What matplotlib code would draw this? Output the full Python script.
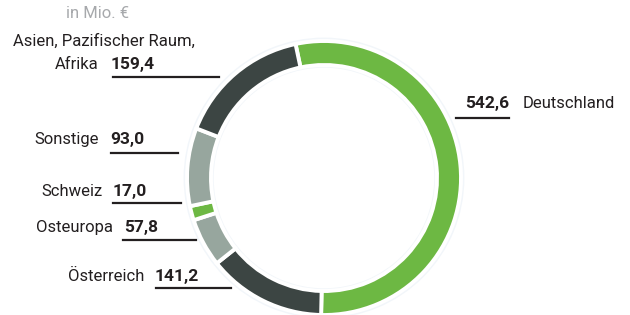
import matplotlib.pyplot as plt

plt.rcParams['font.family'] = ['Roboto', 'DejaVu Sans']

regions = ["Deutschland", "Österreich", "Osteuropa", "Schweiz", "Sonstige",
           "Asien, Pazifischer Raum,\nAfrika"]
values = [542.6, 141.2, 57.8, 17.0, 93.0, 159.4]
value_labels = ["542,6", "141,2", "57,8", "17,0", "93,0", "159,4"]
colors = ["#6db843", "#3c4543", "#97a69e", "#6db843", "#97a69e", "#3c4543"]

W, H = 630, 315
fig = plt.figure(figsize=(W / 100, H / 100), dpi=100)

# donut: center (324, 178) px, radius 136 px
cx, cy, r = 324, 178, 137
lim = 1.03
ax = fig.add_axes([(cx - r * lim) / W, (H - cy - r * lim) / H,
                   2 * r * lim / W, 2 * r * lim / H])
ax.pie([sum(values)], radius=1.025, colors=["#f2f6fa"],
       wedgeprops=dict(width=0.22, linewidth=0))
ax.pie(values, radius=1.0, colors=colors, startangle=102, counterclock=False,
       wedgeprops=dict(width=0.175, edgecolor="white", linewidth=2.8))
ax.set_xlim(-lim, lim)
ax.set_ylim(-lim, lim)
ax.set_aspect("equal")
ax.axis("off")

txt = "#231f20"
fs = 12


def px(x, y):
    return x / W, 1 - y / H


fig.text(*px(98, 14), "in Mio. €", color="#a7a9ac", fontsize=fs,
         ha="center", va="center")

# (value left x, text baseline y, underline x0, x1, underline y)
left_layout = {
    "Asien, Pazifischer Raum,\nAfrika": (111, 69, 113, 219, 77),
    "Sonstige": (110, 144, 111, 178, 153),
    "Schweiz": (113, 196, 113, 181, 203),
    "Osteuropa": (124, 232, 123, 196, 240),
    "Österreich": (155, 281, 156, 231, 288),
}
for name, val in zip(regions, value_labels):
    if name == "Deutschland":
        continue
    vx, by, x0, x1, ly = left_layout[name]
    fig.text(*px(vx, by), val, color=txt, fontsize=fs + 0.5, fontweight="bold",
             ha="left", va="baseline")
    lines = name.split("\n")
    if len(lines) == 2:
        fig.text(*px(195, by - 23), lines[0], color=txt, fontsize=fs,
                 ha="right", va="baseline")
        fig.text(*px(vx - 12, by), lines[1], color=txt, fontsize=fs,
                 ha="right", va="baseline")
    else:
        fig.text(*px(vx - 11, by), name, color=txt, fontsize=fs,
                 ha="right", va="baseline")
    fig.add_artist(plt.Line2D([x0 / W, x1 / W], [1 - ly / H] * 2,
                              color=txt, linewidth=1.6))

# Deutschland on the right
i = regions.index("Deutschland")
fig.text(*px(465, 108), value_labels[i], color=txt, fontsize=fs + 0.5,
         fontweight="bold", ha="left", va="baseline")
fig.text(*px(523, 108), regions[i], color=txt, fontsize=fs,
         ha="left", va="baseline")
fig.add_artist(plt.Line2D([456 / W, 509 / W], [1 - 118 / H] * 2,
                          color=txt, linewidth=1.6))

fig.savefig("out.png", dpi=100, facecolor="white")
